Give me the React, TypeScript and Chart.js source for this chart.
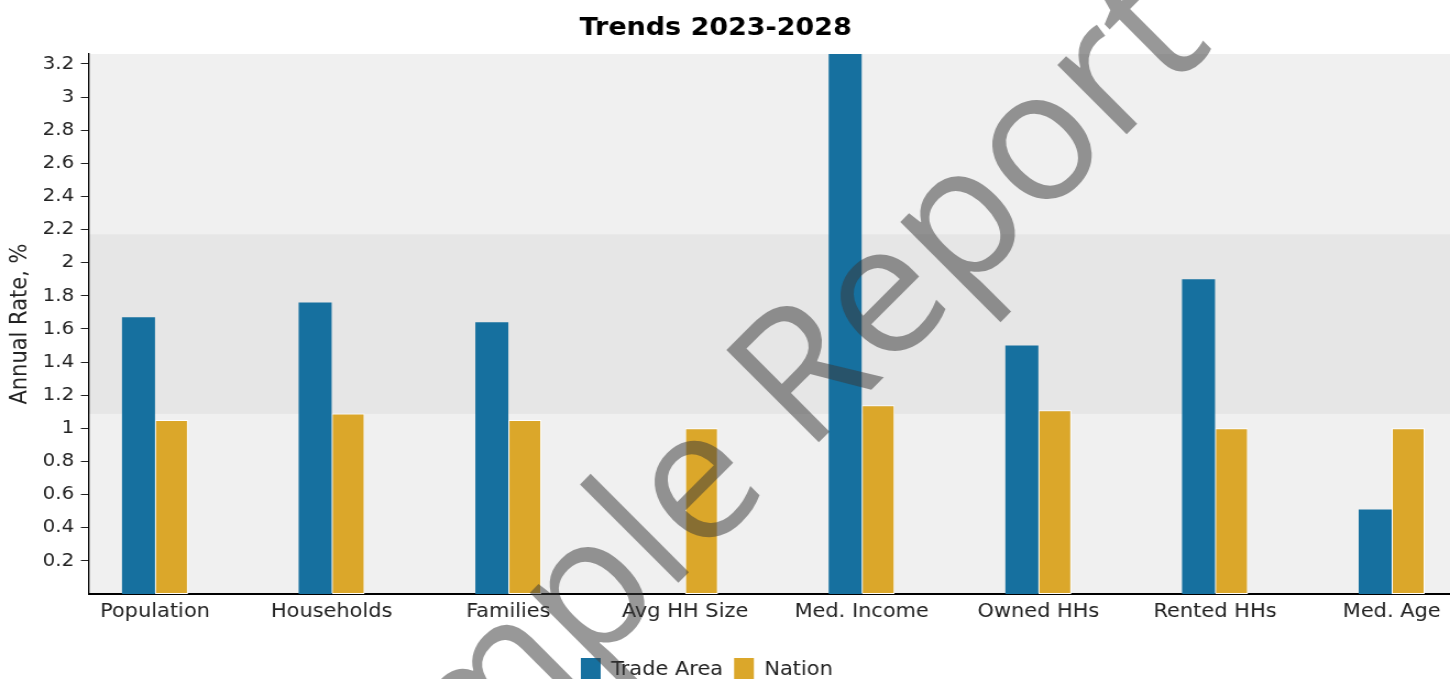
import React, { useEffect, useRef } from 'react';
import { Chart, registerables } from 'chart.js';

Chart.register(...registerables);

// ---- data ----
const categories = ['Population', 'Households', 'Families', 'Avg HH Size', 'Med. Income', 'Owned HHs', 'Rented HHs', 'Med. Age'];
const tradeArea = [1.67, 1.76, 1.64, 0, 3.26, 1.5, 1.9, 0.51];
const nation = [1.05, 1.09, 1.05, 1.0, 1.14, 1.11, 1.0, 1.0];
const yTicks = [0.2, 0.4, 0.6, 0.8, 1, 1.2, 1.4, 1.6, 1.8, 2, 2.2, 2.4, 2.6, 2.8, 3, 3.2];
const yMax = 3.26;
const bandEdges = [0, 1.087, 2.173, 3.26];
const bandColors = ['#f0f0f0', '#e6e6e6', '#f0f0f0'];
const seriesColors = ['#16709f', '#dba72a'];
const seriesLabels = ['Trade Area', 'Nation'];

// ---- layout ----
const VIEW_W = 1450;
const VIEW_H = 679;
const CANVAS_W = 1318;
const CANVAS_H = 692;
const STRETCH = VIEW_W / CANVAS_W;
const X_MIN = -0.376;
const X_MAX = 7.33;
const FONT = "'DejaVu Sans', Verdana, sans-serif";

const bandsPlugin = {
  id: 'bands',
  beforeDraw(chart: any) {
    const { ctx, chartArea: a, scales } = chart;
    const y = scales.y;
    ctx.save();
    bandColors.forEach((c, i) => {
      const top = y.getPixelForValue(bandEdges[i + 1]);
      const bot = y.getPixelForValue(bandEdges[i]);
      ctx.fillStyle = c;
      ctx.fillRect(a.left, top, a.right - a.left, bot - top);
    });
    ctx.restore();
  },
};

const shiftPlugin = {
  id: 'shiftBoxes',
  afterLayout(chart: any) {
    const t = chart.titleBlock;
    if (t) {
      t.left -= 8.5;
      t.right -= 8.5;
    }
    const l = chart.legend;
    if (l) {
      l.left -= 16.5;
      l.right -= 16.5;
    }
  },
};

const watermarkPlugin = {
  id: 'watermark',
  afterDraw(chart: any) {
    const ctx = chart.ctx;
    ctx.save();
    ctx.scale(1 / STRETCH, 1);
    ctx.translate(770, 491);
    ctx.rotate(-Math.PI / 4);
    ctx.font = "183px 'Open Sans', sans-serif";
    ctx.fillStyle = 'rgba(57,57,57,0.52)';
    ctx.textAlign = 'center';
    ctx.textBaseline = 'alphabetic';
    ctx.fillText('Sample Report', 0, 0);
    ctx.restore();
  },
};

export default function App() {
  const ref = useRef<HTMLCanvasElement | null>(null);

  useEffect(() => {
    if (!ref.current) return;
    const chart = new Chart(ref.current, {
      type: 'bar',
      data: {
        datasets: [
          {
            label: seriesLabels[0],
            data: tradeArea.map((v, i) => ({ x: i, y: v })),
            backgroundColor: seriesColors[0],
            borderWidth: 0,
          },
          {
            label: seriesLabels[1],
            data: nation.map((v, i) => ({ x: i, y: v })),
            backgroundColor: seriesColors[1],
            borderColor: '#ffffff',
            borderWidth: 1,
            borderSkipped: false,
          },
        ],
      },
      options: {
        responsive: false,
        maintainAspectRatio: false,
        animation: false,
        devicePixelRatio: 1,
        datasets: {
          bar: { categoryPercentage: 0.3736, barPercentage: 1 },
        },
        layout: { padding: 0 },
        scales: {
          x: {
            type: 'linear',
            min: X_MIN,
            max: X_MAX,
            offset: false,
            grid: { display: false, drawTicks: false },
            border: { display: true, color: '#000', width: 2 },
            afterBuildTicks: (s: any) => {
              s.ticks = categories.map((_, i) => ({ value: i }));
            },
            ticks: {
              autoSkip: false,
              maxRotation: 0,
              minRotation: 0,
              padding: 7,
              color: '#222',
              font: { family: FONT, size: 19 },
              callback: (v: any) => categories[v as number] ?? '',
            },
            afterFit: (s: any) => {
              s.height = 54;
            },
          },
          y: {
            type: 'linear',
            min: 0,
            max: yMax,
            afterBuildTicks: (s: any) => {
              s.ticks = yTicks.map((v) => ({ value: v }));
            },
            ticks: {
              autoSkip: false,
              padding: 6,
              color: '#222',
              font: { family: FONT, size: 18 },
              callback: (v: any) => String(v),
            },
            grid: {
              drawOnChartArea: false,
              drawTicks: true,
              tickLength: 7,
              color: '#222',
              tickColor: '#222',
              lineWidth: 1,
            },
            border: { display: true, color: '#000', width: 1.3 },
            title: {
              display: true,
              text: 'Annual Rate, %',
              color: '#222',
              font: { family: FONT, size: 21 },
              padding: { top: 5.6, bottom: 0 },
            },
            afterFit: (s: any) => {
              s.width = 80.5;
            },
          },
        },
        plugins: {
          title: {
            display: true,
            text: 'Trends 2023-2028',
            color: '#000',
            font: { family: FONT, size: 24.5, weight: 'bold' },
            padding: { top: 14, bottom: 10.6 },
          },
          legend: {
            position: 'bottom',
            labels: {
              boxWidth: 18,
              boxHeight: 24,
              padding: 10,
              color: '#222',
              font: { family: FONT, size: 19 },
              generateLabels: (c: any) =>
                (Chart.defaults.plugins.legend.labels as any)
                  .generateLabels(c)
                  .map((l: any) => ({ ...l, lineWidth: 0 })),
            },
          },
          tooltip: { enabled: false },
        },
      } as any,
      plugins: [bandsPlugin, shiftPlugin, watermarkPlugin],
    });
    return () => chart.destroy();
  }, []);

  return (
    <div
      style={{
        position: 'fixed',
        left: 0,
        top: 0,
        width: VIEW_W,
        height: VIEW_H,
        overflow: 'hidden',
        background: '#fff',
      }}
    >
      <canvas
        ref={ref}
        width={CANVAS_W}
        height={CANVAS_H}
        style={{ width: `${VIEW_W}px`, height: `${CANVAS_H}px`, display: 'block' }}
      />
    </div>
  );
}
